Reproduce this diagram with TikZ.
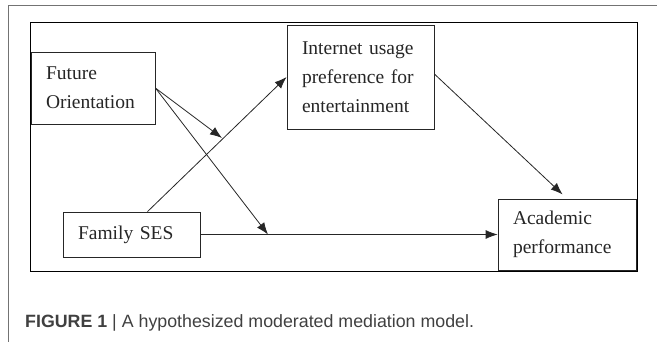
\documentclass[tikz,border=0pt]{standalone}
\usepackage{fontspec}
\setmainfont{Liberation Serif}
\newfontfamily\capfont{Liberation Sans}
\usetikzlibrary{arrows.meta,positioning}

\begin{document}
\begin{tikzpicture}[x=1pt,y=-1pt,>={Latex[length=12pt,width=9pt]},
  var/.style={draw=black!85,line width=0.8pt,align=left,inner xsep=15pt,
    inner ysep=0pt,font=\fontsize{19.5}{29}\selectfont,text=black!85},
  link/.style={->,line width=0.8pt,draw=black!85}]
\useasboundingbox (0,0) rectangle (657,342);
% outer frame and inner frame
\draw[black!55,line width=1pt] (657,6) -- (8,6) -- (8,342);
\draw[line width=1pt] (30,23) rectangle (637,272);
% variables
\node[var,text width=94pt,minimum height=72pt] (fut) at (93,88)
  {\raisebox{-4pt}{Future}\\\raisebox{-4pt}{Orientation}};
\node[var,text width=117pt,minimum height=104pt] (net) at (360.5,77)
  {Internet~usage\\preference~for\\entertainment};
\node[var,text width=107pt,minimum height=45pt] (ses) at (131.5,234.5)
  {Family~SES};
\node[var,text width=108pt,minimum height=71pt] (acad) at (567,234.5)
  {Academic\\performance};
% moderation points
\coordinate (m1) at (222,138);
\coordinate (m2) at (268,234.5);
% paths
\draw[link] (fut.east) -- (m1);
\draw[link] (fut.east) -- (m2);
\draw[link] ([xshift=16pt]ses.north) -- (net.west);
\draw[link,shorten >=6pt] ([yshift=3pt]net.east) -- (acad.north);
\draw[link] (ses.east) -- (acad.west);
% caption
\node[anchor=base west,inner sep=0pt,text=black!75,
  font=\capfont\fontsize{17.8}{21}\selectfont] (cap) at (25,327)
  {\textbf{FIGURE 1} | A hypothesized moderated mediation model.};
\end{tikzpicture}
\end{document}
